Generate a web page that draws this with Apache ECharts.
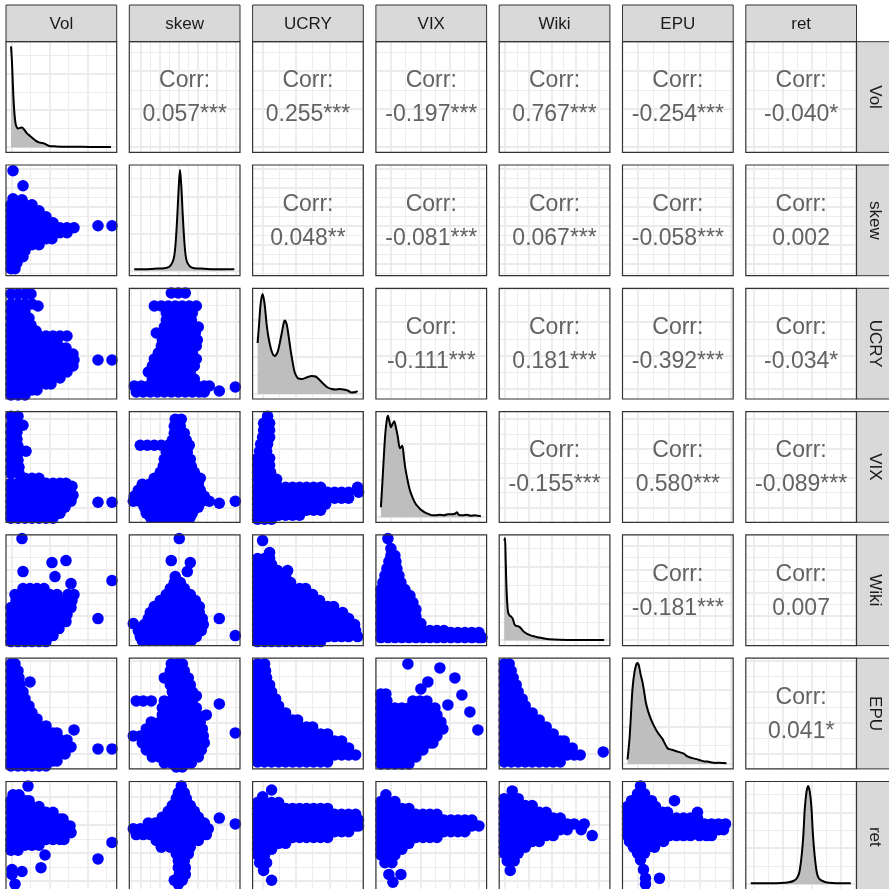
<!DOCTYPE html>
<html><head><meta charset="utf-8">
<script src="https://cdn.jsdelivr.net/npm/echarts@6/dist/echarts.min.js"></script>
<style>html,body{margin:0;padding:0;background:#fff}#c{width:889px;height:889px}</style>
</head><body><div id="c"></div>
<script>
// ---------------- data ----------------
const vars = ['Vol','skew','UCRY','VIX','Wiki','EPU','ret'];

// correlation labels, upper triangle, row by row
const corrRow1 = ['0.057***','0.255***','-0.197***','0.767***','-0.254***','-0.040*'];
const corrRow2 = ['0.048**','-0.081***','0.067***','-0.058***','0.002'];
const corrRow3 = ['-0.111***','0.181***','-0.392***','-0.034*'];
const corrRow4 = ['-0.155***','0.580***','-0.089***'];
const corrRow5 = ['-0.181***','0.007'];
const corrRow6 = ['0.041*'];

// grid line position per variable (first major line, major step), in panel units
const gridFirst = [0.3, 6.7, 5, 10, 1, 10, 3];
const gridStep  = [38, 19, 33.4, 29.4, 23.4, 31, 29];
const diagFirst = 0.4, diagStep = 36.8;

// densities (x, density scaled to panel units)
const densVol = [[0,101],[1,85],[2,60],[3,40],[4,28],[5,22],[7,19],[9,19.5],[11,20],[13,18],[16,14],[19,11.5],[22,9],[25,6.5],[28,5],[31,4.5],[33,4],[35,3],[38,1.5],[45,1],[60,0.7],[80,0.5],[100,0.5]];
const densSkew = [[0,1.5],[10,1.5],[20,2],[30,2.5],[35,4],[38,8],[40,15],[41.5,30],[43,55],[44.5,85],[45.7,101],[47,85],[48.5,55],[50,30],[51.5,14],[53,8],[56,4],[60,2.5],[70,2],[80,1.5],[90,1.5],[100,1.5]];
const densUcry = [[0,51],[1.5,70],[3,90],[5,100],[7,90],[9,70],[11,56],[14,43],[17,38],[20,42],[23,55],[25.5,68],[27,73.5],[29,70],[31,58],[33,44],[35,32],[37,22],[40,16],[44,15],[49,16.5],[54,18],[58,17.5],[62,14],[66,10],[70,6.5],[74,5],[78,4.5],[82,5],[86,4.5],[90,3.5],[94,1.5],[98,2],[100,3]];
const densVix = [[0,10],[1.5,35],[3,62],[4.5,85],[6,98],[7,101.5],[8.5,96],[10,90],[11.5,93],[13.3,96],[15,90],[17,80],[19,69],[21.3,71.5],[23,60],[24.3,50],[26.5,38],[29,27],[32,19],[35,13],[37.7,10],[40,7.5],[43,5.5],[46,4],[51,2],[55,2],[59,2.5],[63,2],[67,3],[71,3],[74,3.5],[76,5],[78,2.5],[82,2],[86,2.5],[90,1.5],[94,2],[97,1.5],[100,1]];
const densWiki = [[0,100],[0.8,102.5],[1.5,80],[2.2,55],[3,38],[4,28],[5.5,25],[7,24],[8.5,22],[10,17],[11.5,15],[13.5,14.5],[15.5,13.5],[17,12],[19,9.5],[21,8],[23,6.7],[27,5],[31,4],[35,3],[40,2],[45,1.3],[55,0.8],[70,0.6],[85,0.5],[100,0.5]];
const densEpu = [[0,4.4],[2,25],[3.5,50],[5,75],[7,92],[9,100],[10,101],[11.5,98],[13,90],[15,81.7],[17,70],[18.3,61.7],[20.5,53],[23.3,45],[26.5,38],[30,31.7],[35,25],[37,21],[40,15.7],[43,14.5],[46.7,13.4],[51,12],[56.7,10],[59,8],[62,6.7],[66,5.5],[70,4.5],[73.3,3.4],[77,2.5],[80,2.4],[84,1.5],[88,1],[92,1.2],[96,0.8],[99,0.7]];
const densRet = [[0,1],[10,1],[20,1],[30,1.2],[38,2],[43,3.5],[46,6],[48.5,12],[50.7,28],[52.5,50],[54,78],[55.7,95],[57.3,101],[59,95],[60.7,78],[62.2,50],[64,28],[66,12],[68,6],[71,3.5],[75,2],[82,1.2],[90,1],[100,1]];

// scatter points, written as rows: [y, x1, x2, ...]
const scSkewVol = [[100,2],[85,12],[72,2],[71,11],[66,0,7,14,21],[60,0,7,14,21,28],[54,0,7,14,21,28,35],[48,0,7,14,21,28,35,42],[43,0,7,14,21,28,35,42,49,56,63],[45,87,101],[38,0,7,14,21,28,35,42,49,56],[32,0,7,14,21,28,35,41],[26,0,7,14,21,28],[20,0,7,14],[14,0,7,12],[8,0,6],[2,0,4]];
const scUcryVol = [[100,0,7,14,20],[90,0,7,14,21],[88,27],[83,0,7,14],[76,0,7,14,18],[69,0,7,14,20],[63,0,7,14,21,25],[58,0,7,14,21,28,35,42,49,56],[52,0,7,14,21,28,35,46],[46,0,7,14,21,28,35,42,50,55],[40,0,7,14,21,28,35,42,49,56,62],[34,0,7,14,21,28,35,42,49,56,63,87,101],[28,0,7,14,21,28,35,42,49,56,62],[22,0,7,14,21,28,35,42,49,56],[16,0,7,14,21,28,35,42,49],[10,0,7,14,21,28,35,40],[4,0,7,14,21,26],[-1,0,7,14]];
const scUcrySkew = [[101,37,44,51],[88,20,27,34,41,48,55,62],[81,32,39,46,53,58],[74,32,39,46,53,57],[67,30,37,44,51,58,64],[61,22,28,35,42,49,56,61],[54,28,35,42,49,56,63],[48,27,34,41,48,55,62],[41,24,31,38,45,52,58],[35,20,27,34,41,48,55,62],[28,18,25,32,39,46,53,60],[22,14,21,28,35,42,49,56],[15,18,25,32,39,46,53,60],[8,0,7,14,21,28,35,42,49,56,63,70,75],[2,2,9,16,23,30,37,44,51,58,65,70],[3,85],[7,101]];
const scVixVol = [[101,0,7],[92,0,5,12],[85,0,6],[78,0,6],[71,0,7],[66,15],[64,0,7],[57,0,7],[50,0,8],[44,0,8],[39,14,21,28],[34,0,7,14,21,28,35,42,49,55],[28,0,7,14,21,28,35,42,49,56],[22,0,7,14,21,28,35,42,49,56,62],[16,0,7,14,21,28,35,42,49,56,60],[10,0,7,14,21,28,35,42,49,54],[4,0,7,14,21,28,35,42,49],[-1,0,7,14,21,28,35,42],[31,61],[15,87,101]];
const scVixSkew = [[98,41,47],[91,40,46],[84,40,47,50],[77,38,45,52],[72,6,13,20,27,34,41,48,55],[65,32,39,46,53],[58,30,37,44,51,56],[51,29,36,43,50,57],[45,26,33,40,47,54,60],[39,20,27,34,41,48,55,62,66],[33,8,15,22,29,36,43,50,57,64],[27,4,11,18,25,32,39,46,53,60,66],[21,0,7,14,21,28,35,42,49,56,63,70],[16,-1,5,12,19,26,33,40,47,54,61,68,75],[10,10,17,24,31,38,45,52,59,64],[4,12,19,26,33,40,47,54,58],[0,16,23,30,37,44,51,56],[14,85],[16,101]];
const scVixUcry = [[101,10],[94,6,12],[87,6,12],[80,5,12],[73,3,10],[66,2,9],[59,0,7,12],[52,0,7,12],[45,0,7,13],[38,0,7,14,19],[30,0,7,14,21,28,35,42,49,56,63,100],[25,0,7,14,21,28,35,42,49,56,63,70,77,84,91,101],[19,0,7,14,21,28,35,42,49,56,63,70,77,84,91],[13,0,7,14,21,28,35,42,49,56,63,68],[7,0,7,14,21,28,35,42,49,56,63],[2,0,7,14,21,28,35,42],[-2,0,7,14]];
const scWikiVol = [[102,11],[78,41],[80,55],[69,12],[64,44],[57,60],[60,101],[22,87],[52,12,19,26,33],[46,4,11,18,25,32,39,46,57,63],[40,5,12,19,26,33,40,47,54,61],[33,0,7,14,21,28,35,42,49,56,60],[26,0,7,14,21,28,35,42,49,56],[19,0,7,14,21,28,35,42,49,55],[12,0,7,14,21,28,35,42,48],[5,0,7,14,21,28,35,42],[-1,0,7,14,21,28,35]];
const scWikiSkew = [[102,45],[80,37],[78,56],[69,53],[64,41],[22,85],[5,101],[17,-1],[58,40,46],[52,36,43,50],[46,32,39,46,53,56],[40,26,33,40,47,54,61],[34,20,27,34,41,48,55,62,65],[28,16,23,30,37,44,51,58,65],[22,14,21,28,35,42,49,56,63,68],[16,10,16,23,30,37,44,51,58,65,69],[10,4,11,18,25,32,39,46,53,60,67],[4,6,13,20,27,34,41,48,55,62],[0,8,15,22,29,36,43,50,57]];
const scWikiUcry = [[100,5],[88,12],[70,30],[82,0,7,12],[76,0,7,14],[70,0,7,14,20],[64,0,7,14,21,28],[58,0,7,14,21,28,33],[52,0,7,14,21,28,35,42,48],[46,0,7,14,21,28,35,42,49,55],[40,0,7,14,21,28,35,42,49,56,62],[34,0,7,14,21,28,35,42,49,56,63,70,76],[28,0,7,14,21,28,35,42,49,56,63,70,78,85],[22,0,7,14,21,28,35,42,49,56,63,70,77,84,91],[16,0,7,14,21,28,35,42,49,56,63,70,77,84,91,97],[10,0,7,14,21,28,35,42,49,56,63,70,77,84,91,98],[4,0,7,14,21,28,35,42,49,56,63,70,77,84,91,100],[-1,0,7,14,21,28,35,42,49,56,63]];
const scWikiVix = [[102,7],[92,10],[85,10,14],[79,8,15],[72,6,13,16],[65,4,11,18],[58,2,9,16,20],[51,0,7,14,21,24],[45,0,7,14,21,29],[38,0,7,14,21,28,32],[31,0,7,14,21,28,35],[24,0,7,14,21,28,35],[17,0,7,14,21,28,35,40],[10,0,7,14,21,28,35,42,49,56,63],[8,70,77,84,91,98],[3,0,7,14,21,28,35,42,49,56,63,70,77,84,91,98,101]];
const scEpuVol = [[100,0,4],[93,0,7],[86,0,8],[82,19],[79,0,9],[72,0,7,12],[65,0,7,14],[58,0,7,14,18],[51,0,7,14,21],[45,0,7,14,21,26],[38,0,7,14,21,28,35],[31,0,7,14,21,28,35,42,46],[24,0,7,14,21,28,35,42,49,56],[17,0,7,14,21,28,35,42,49,56,60],[10,0,7,14,21,28,35,42,49,54],[3,0,7,14,21,28,35,42,46],[-2,0,7,14,21,28,35],[34,63],[15,87,101]];
const scEpuSkew = [[100,37,43,48],[93,36,43,50],[86,30,37,44,51,54],[79,36,43,50,56],[72,38,45,52,58],[68,62],[63,2,9,17,30,37,44,51,58],[56,28,35,42,49,56,62],[49,28,35,42,49,56,63,72],[42,17,26,33,40,47,54,61,66],[35,12,19,26,33,40,47,54,61,68],[28,-1,6,13,20,27,34,41,48,55,62,69],[21,8,15,22,29,36,43,50,57,64,70],[14,12,19,26,33,40,47,54,61,67],[7,18,25,32,39,46,53,60,64],[1,30,37,44,51,57],[-3,42,48],[60,85],[31,101]];
const scEpuUcry = [[100,0,7],[93,0,8],[86,0,9],[79,0,7,12],[72,0,7,14],[65,0,7,14,18],[58,0,7,14,21],[51,0,7,14,21,28],[44,0,7,14,21,28,35,40],[37,0,7,14,21,28,35,42,49,55],[30,0,7,14,21,28,35,42,49,56,63,70],[23,0,7,14,21,28,35,42,49,56,63,70,77,84],[16,0,7,14,21,28,35,42,49,56,63,70,77,84,91],[9,0,7,14,21,28,35,42,49,56,63,70,77,84,91,98],[2,0,7,14,21,28,35,42,49,56,63,70]];
const scEpuVix = [[100,27],[96,59],[86,74],[82,47],[69,81],[52,89],[34,97],[59,67],[75,40],[70,0,5],[63,0,6,32,39,46],[56,0,7,14,21,28,35,42,49,54],[49,0,7,14,21,28,35,42,49,56],[42,0,7,14,21,28,35,42,49,56,60],[35,0,7,14,21,28,35,42,49,56,62],[28,0,7,14,21,28,35,42,49,56],[21,0,7,14,21,28,35,42,49,52],[14,0,7,14,21,28,35,42],[7,0,7,14,21,28,35],[0,0,7,14,21,28]];
const scEpuWiki = [[100,0,5],[93,0,7],[86,0,9],[79,0,7,12],[72,0,7,14],[65,0,7,14,18],[58,0,7,14,21],[51,0,7,14,21,28],[44,0,7,14,21,28,35],[37,0,7,14,21,28,35,42],[30,0,7,14,21,28,35,42,49],[23,0,7,14,21,28,35,42,49,56,60],[16,0,7,14,21,28,35,42,49,56,63,68],[9,0,7,14,21,28,35,42,49,56,63,70,76],[2,0,7,14,21,28,35,42,49,56],[12,99]];
const scRetVol = [[101,17],[92,2,8],[86,0,7,14,18],[80,0,7,14,21,28],[74,0,7,14,21,28,35,42],[67,0,7,14,21,28,35,42,49,52],[60,0,7,14,21,28,35,42,49,56,59],[53,0,7,14,21,28,35,42,49,56,60],[46,0,7,14,21,28,35,42,49,53],[40,0,7,14,21,28],[35,0,7],[30,34],[17,30],[15,1],[13,11],[10,1],[0,4],[26,87],[43,101]];
const scRetSkew = [[101,47],[94,44,50],[88,42,49,52],[81,38,45,52,56],[75,34,41,48,55,60],[69,28,35,42,49,56,64],[63,14,21,28,35,42,49,56,63,70],[57,-1,6,13,20,27,34,41,48,55,62,69,74],[51,2,9,16,23,30,37,44,51,58,65,72],[45,22,29,36,43,50,57,64],[38,27,36,43,50,56],[31,42,48,54],[24,44,50],[17,44,51],[10,45,51],[4,40,48],[0,44],[68,85],[62,101]];
const scRetUcry = [[97,14],[90,5],[84,0,7,14,21],[78,0,7,14,21,28,35,42,49,56,63,70],[72,0,7,14,21,28,35,42,49,56,63,70,77,84,91,98],[66,0,7,14,21,28,35,42,49,56,63,70,77,84,91,98,101],[60,0,7,14,21,28,35,42,49,56,63,70,77,84,91,98,101],[54,0,7,14,21,28,35,42,49,56,63,70,77,84,91],[48,0,7,14,21,28,35,42,49,56,63,70],[42,0,7,14,21,28],[36,0,7,14],[30,0,7],[22,2,9],[14,6],[4,14]];
const scRetVix = [[92,5],[85,0,7,14],[78,0,7,14,21,28],[72,0,7,14,21,28,35,42,49,56],[66,0,7,14,21,28,35,42,49,56,63,70,77,84,91],[60,0,7,14,21,28,35,42,49,56,63,70,77,84,91,98],[54,0,7,14,21,28,35,42,49,56,63,70,77,84],[48,0,7,14,21,28,35,42,49,56],[42,0,7,14,21,28],[36,0,7,14,21],[30,0,7,14],[22,4,11],[10,8,20],[2,12]];
const scRetWiki = [[96,8],[88,0,7,14],[81,0,7,14,21,28],[74,0,7,14,21,28,35,42],[68,0,7,14,21,28,35,42,49,56],[62,0,7,14,21,28,35,42,49,56,63,70,80],[56,0,7,14,21,28,35,42,49,56,63,77],[50,0,7,14,21,28,35,42,49,88],[44,0,7,14,21,28,35],[38,0,7,14,21],[32,0,7,14],[24,3,10],[14,6]];
const scRetEpu = [[101,13],[93,10,17],[86,4,11,18,24,47],[80,0,7,14,21,28],[74,0,7,14,21,28,35,40,70],[68,0,7,14,21,28,35,42,49,56,63,70],[62,0,7,14,21,28,35,42,49,56,63,70,77,84,91,98],[56,0,7,14,21,28,35,42,49,56,63,70,77,84,91,96],[50,0,7,14,21,28,35,42,49,56,63,72,79,84],[44,2,9,16,23,30,36],[38,6,13,20,27],[32,10,17],[25,13],[15,16],[6,18,32],[0,18]];

// which panel (row, col) shows which scatter
const lowerPanels = [
  [1,0,scSkewVol],
  [2,0,scUcryVol],[2,1,scUcrySkew],
  [3,0,scVixVol],[3,1,scVixSkew],[3,2,scVixUcry],
  [4,0,scWikiVol],[4,1,scWikiSkew],[4,2,scWikiUcry],[4,3,scWikiVix],
  [5,0,scEpuVol],[5,1,scEpuSkew],[5,2,scEpuUcry],[5,3,scEpuVix],[5,4,scEpuWiki],
  [6,0,scRetVol],[6,1,scRetSkew],[6,2,scRetUcry],[6,3,scRetVix],[6,4,scRetWiki],[6,5,scRetEpu]
];
const diagDens = [densVol, densSkew, densUcry, densVix, densWiki, densEpu, densRet];
const corrRows = [corrRow1, corrRow2, corrRow3, corrRow4, corrRow5, corrRow6];

// ---------------- layout ----------------
const N = 7, P = 110.7, GAP = 12.6, LEFT0 = 6, TOP0 = 41.7;
const DMIN = -5, DMAX = 105.7;
const colX = c => LEFT0 + c * (P + GAP);
const rowY = r => TOP0 + r * (P + GAP);
const FONT = "'Liberation Sans', Arial, Helvetica, sans-serif";

const grids = [], xAxes = [], yAxes = [], series = [], graphics = [];

function makeAxes(g, first, step) {
  const base = { gridIndex: g, type: 'value', axisLine: { show: false }, axisTick: { show: false }, axisLabel: { show: false } };
  const data = Object.assign({}, base, { min: DMIN, max: DMAX, splitLine: { show: false } });
  const gl = Object.assign({}, base, {
    min: DMIN - first, max: DMAX - first, minInterval: step, maxInterval: step, splitNumber: 3,
    splitLine: { show: true, showMinLine: false, showMaxLine: false, lineStyle: { color: '#ebebeb', width: 1.8 } },
    minorTick: { show: false, splitNumber: 2 },
    minorSplitLine: { show: true, lineStyle: { color: '#ededed', width: 1 } }
  });
  return [data, gl];
}

function rowsToPoints(rows) {
  const out = [];
  rows.forEach(r => { for (let i = 1; i < r.length; i++) out.push([r[i], r[0]]); });
  return out;
}

for (let r = 0; r < N; r++) {
  for (let c = 0; c < N; c++) {
    const g = r * N + c;
    grids.push({ left: colX(c), top: rowY(r), width: P, height: P, show: true, backgroundColor: '#fff', borderWidth: 0 });
    xAxes.push(...makeAxes(g, gridFirst[c], gridStep[c]));
    if (r === c) yAxes.push(...makeAxes(g, diagFirst, diagStep));
    else yAxes.push(...makeAxes(g, gridFirst[r], gridStep[r]));
  }
}

// diagonal densities
for (let i = 0; i < N; i++) {
  const g = i * N + i;
  series.push({
    type: 'line', xAxisIndex: 2 * g, yAxisIndex: 2 * g, data: diagDens[i],
    smooth: 0.3, showSymbol: false, silent: true, clip: true,
    lineStyle: { color: '#000', width: 2 },
    areaStyle: { color: '#bebebe', opacity: 1 }
  });
}
// lower scatter
lowerPanels.forEach(([r, c, rows]) => {
  const g = r * N + c;
  series.push({
    type: 'scatter', xAxisIndex: 2 * g, yAxisIndex: 2 * g, data: rowsToPoints(rows),
    symbolSize: 11.5, clip: true, silent: true, itemStyle: { color: '#0000ff', opacity: 1 }
  });
});

// upper correlation texts
corrRows.forEach((row, r) => {
  row.forEach((lab, k) => {
    const c = r + 1 + k;
    const cx = colX(c) + P / 2, cy = rowY(r) + P / 2;
    graphics.push({ type: 'text', x: cx, y: cy - 16, z: 50,
      style: { text: 'Corr:', fill: '#636363', font: '23px ' + FONT, align: 'center', verticalAlign: 'middle' } });
    graphics.push({ type: 'text', x: cx, y: cy + 18, z: 50,
      style: { text: lab, fill: '#636363', font: '23px ' + FONT, align: 'center', verticalAlign: 'middle' } });
  });
});

// strips and borders
for (let i = 0; i < N; i++) {
  graphics.push({ type: 'rect', z: 60, shape: { x: colX(i), y: 5, width: P, height: TOP0 - 5 },
    style: { fill: '#d9d9d9', stroke: '#333333', lineWidth: 1 } });
  graphics.push({ type: 'text', z: 61, x: colX(i) + P / 2, y: (5 + TOP0) / 2 + 0.5,
    style: { text: vars[i], fill: '#1a1a1a', font: '17px ' + FONT, align: 'center', verticalAlign: 'middle' } });
  const sx = colX(N - 1) + P;
  graphics.push({ type: 'rect', z: 60, shape: { x: sx, y: rowY(i), width: 37, height: P },
    style: { fill: '#d9d9d9', stroke: '#333333', lineWidth: 1 } });
  graphics.push({ type: 'text', z: 61, x: sx + 18.5, y: rowY(i) + P / 2, rotation: -Math.PI / 2,
    style: { text: vars[i], fill: '#1a1a1a', font: '17px ' + FONT, align: 'center', verticalAlign: 'middle' } });
}
for (let r = 0; r < N; r++) for (let c = 0; c < N; c++) {
  graphics.push({ type: 'rect', z: 70, shape: { x: colX(c), y: rowY(r), width: P, height: P },
    style: { fill: 'none', stroke: '#333333', lineWidth: 1.2 } });
}

const chart = echarts.init(document.getElementById('c'), null, { renderer: 'canvas' });
chart.setOption({
  animation: false,
  backgroundColor: '#ffffff',
  grid: grids, xAxis: xAxes, yAxis: yAxes, series: series, graphic: graphics
});
</script></body></html>
